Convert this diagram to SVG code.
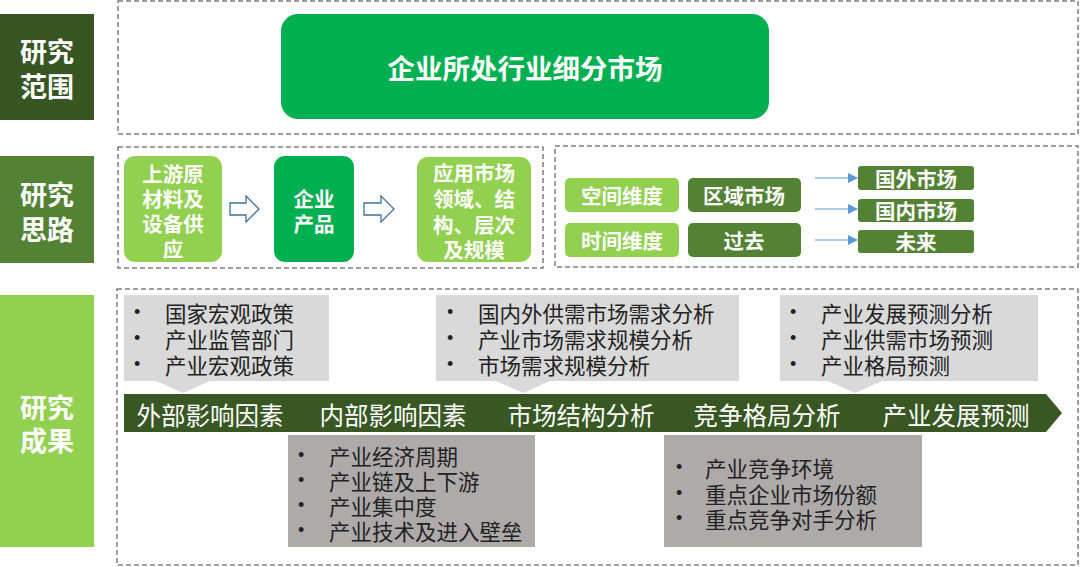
<svg xmlns="http://www.w3.org/2000/svg" width="1080" height="567" viewBox="0 0 1080 567">
<defs>
<style>
text{font-family:"Noto Sans CJK SC","Noto Sans",sans-serif;dominant-baseline:central}
.lbl{fill:#fff;font-size:27px;font-weight:700;text-anchor:middle}
.wb{fill:#fff;font-size:20.5px;font-weight:700;text-anchor:middle}
.band{fill:#fff;font-size:24.5px;text-anchor:middle}
.it{fill:#222;font-size:21.5px}
.bul{font-size:18px;font-family:"Liberation Sans",Arial,sans-serif}
.dash{fill:none;stroke:#7f7f7f;stroke-width:1.5;stroke-dasharray:5 3}
.lg{fill:#92d050}
.mg{fill:#548235}
.bg{fill:#00b050}
.g1{fill:#d9d9d9}
.g2{fill:#aeaaaa}
.harrow{fill:#fff;stroke:#41719c;stroke-width:1.3}
.blue{stroke:#5b9bd5;stroke-width:1.2;fill:none}
</style>
<marker id="ah" viewBox="0 0 10 10" refX="9" refY="5" markerWidth="10" markerHeight="10" markerUnits="userSpaceOnUse" orient="auto">
<path d="M0,0 L10,5 L0,10 Z" fill="#5b9bd5"/>
</marker>
</defs>
<rect width="1080" height="567" fill="#fff"/>

<!-- frames -->
<g id="frames">
<rect class="dash" x="118" y="1" width="960" height="133"/>
<rect class="dash" x="118" y="147" width="425" height="121"/>
<rect class="dash" x="555" y="146" width="523" height="121"/>
<rect class="dash" x="117" y="289" width="961" height="276"/>
</g>

<!-- left labels -->
<g id="label-scope">
<rect x="0" y="14" width="94" height="106" fill="#375623"/>
<text class="lbl"><tspan x="47" y="50">研究</tspan><tspan x="47" y="85">范围</tspan></text>
</g>
<g id="label-approach">
<rect x="0" y="156" width="94" height="107" fill="#548235"/>
<text class="lbl"><tspan x="47" y="193">研究</tspan><tspan x="47" y="228">思路</tspan></text>
</g>
<g id="label-results">
<rect x="0" y="295" width="94" height="252" fill="#92d050"/>
<text class="lbl"><tspan x="47" y="406">研究</tspan><tspan x="47" y="439">成果</tspan></text>
</g>

<!-- top -->
<g id="market">
<rect class="bg" x="281" y="14" width="488" height="105" rx="17"/>
<text x="525" y="67" fill="#fff" font-size="27.5" font-weight="700" text-anchor="middle">企业所处行业细分市场</text>
</g>

<!-- row 2 left -->
<g id="upstream">
<rect class="lg" x="124" y="156" width="98" height="106" rx="11"/>
<text class="wb"><tspan x="173" y="173">上游原</tspan><tspan x="173" y="198">材料及</tspan><tspan x="173" y="223">设备供</tspan><tspan x="173" y="248">应</tspan></text>
</g>
<g id="product">
<rect class="bg" x="274" y="156" width="80" height="106" rx="11"/>
<text class="wb"><tspan x="314" y="198">企业</tspan><tspan x="314" y="223">产品</tspan></text>
</g>
<g id="application">
<rect class="lg" x="417" y="157" width="114" height="105" rx="11"/>
<text class="wb"><tspan x="474" y="172">应用市场</tspan><tspan x="474" y="198">领域、结</tspan><tspan x="474" y="224">构、层次</tspan><tspan x="474" y="249">及规模</tspan></text>
</g>

<!-- row 2 right -->
<g id="space">
<rect class="lg" x="565" y="178" width="114" height="34" rx="5"/>
<text class="wb" x="622" y="195">空间维度</text>
</g>
<g id="time">
<rect class="lg" x="565" y="223" width="114" height="34" rx="5"/>
<text class="wb" x="622" y="240">时间维度</text>
</g>
<g id="region">
<rect class="mg" x="688" y="178" width="113" height="34" rx="5"/>
<text class="wb" x="744" y="195">区域市场</text>
</g>
<g id="past">
<rect class="mg" x="688" y="223" width="113" height="34" rx="5"/>
<text class="wb" x="744" y="240">过去</text>
</g>
<g id="foreign">
<rect class="mg" x="858" y="166" width="116" height="24" rx="3"/>
<text class="wb" x="916" y="178">国外市场</text>
</g>
<g id="domestic">
<rect class="mg" x="858" y="199" width="116" height="23" rx="3"/>
<text class="wb" x="916" y="210">国内市场</text>
</g>
<g id="future">
<rect class="mg" x="858" y="230" width="116" height="23" rx="3"/>
<text class="wb" x="916" y="241">未来</text>
</g>

<!-- connectors -->
<g id="connectors">
<path class="harrow" d="M230,203 H246 V196 L259,209 L246,222 V215 H230 Z"/>
<path class="harrow" d="M364,203 H381 V196 L394,209 L381,222 V215 H364 Z"/>
<line class="blue" x1="815" y1="178" x2="857" y2="178" marker-end="url(#ah)"/>
<line class="blue" x1="815" y1="209" x2="857" y2="209" marker-end="url(#ah)"/>
<line class="blue" x1="815" y1="240" x2="857" y2="240" marker-end="url(#ah)"/>
</g>

<!-- results -->
<g id="band">
<path d="M124,394 H1046 L1062,413 L1046,432 H124 Z" fill="#385723"/>
<text class="band" x="210" y="414">外部影响因素</text>
<text class="band" x="393" y="414">内部影响因素</text>
<text class="band" x="581" y="414">市场结构分析</text>
<text class="band" x="767" y="414">竞争格局分析</text>
<text class="band" x="956" y="414">产业发展预测</text>
</g>

<g id="external">
<path class="g1" d="M124,295 H329 V381 H210 L183,393 L156,381 H124 Z"/>
<text class="it"><tspan class="bul" x="134" y="312">•</tspan><tspan x="165" y="312">国家宏观政策</tspan><tspan class="bul" x="134" y="338">•</tspan><tspan x="165" y="338">产业监管部门</tspan><tspan class="bul" x="134" y="364">•</tspan><tspan x="165" y="364">产业宏观政策</tspan></text>
</g>
<g id="structure">
<path class="g1" d="M436,295 H739 V381 H550 L523,393 L496,381 H436 Z"/>
<text class="it"><tspan class="bul" x="447" y="312">•</tspan><tspan x="478" y="312">国内外供需市场需求分析</tspan><tspan class="bul" x="447" y="338">•</tspan><tspan x="478" y="338">产业市场需求规模分析</tspan><tspan class="bul" x="447" y="364">•</tspan><tspan x="478" y="364">市场需求规模分析</tspan></text>
</g>
<g id="forecast">
<path class="g1" d="M780,295 H1038 V381 H882 L855,393 L828,381 H780 Z"/>
<text class="it"><tspan class="bul" x="790" y="312">•</tspan><tspan x="821" y="312">产业发展预测分析</tspan><tspan class="bul" x="790" y="338">•</tspan><tspan x="821" y="338">产业供需市场预测</tspan><tspan class="bul" x="790" y="364">•</tspan><tspan x="821" y="364">产业格局预测</tspan></text>
</g>
<g id="internal">
<rect class="g2" x="288" y="435" width="247" height="112"/>
<text class="it"><tspan class="bul" x="298" y="455">•</tspan><tspan x="329" y="455">产业经济周期</tspan><tspan class="bul" x="298" y="480">•</tspan><tspan x="329" y="480">产业链及上下游</tspan><tspan class="bul" x="298" y="505">•</tspan><tspan x="329" y="505">产业集中度</tspan><tspan class="bul" x="298" y="530">•</tspan><tspan x="329" y="530">产业技术及进入壁垒</tspan></text>
</g>
<g id="competition">
<rect class="g2" x="664" y="435" width="258" height="112"/>
<text class="it"><tspan class="bul" x="676" y="467">•</tspan><tspan x="705" y="467">产业竞争环境</tspan><tspan class="bul" x="676" y="493">•</tspan><tspan x="705" y="493">重点企业市场份额</tspan><tspan class="bul" x="676" y="518">•</tspan><tspan x="705" y="518">重点竞争对手分析</tspan></text>
</g>
</svg>
